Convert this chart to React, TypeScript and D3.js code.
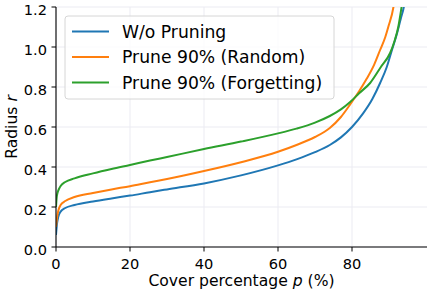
import React from "react";
import * as d3 from "d3";

const xTicks = [0, 20, 40, 60, 80];
const yTicks = [0.0, 0.2, 0.4, 0.6, 0.8, 1.0, 1.2];
const seriesNames = ["W/o Pruning", "Prune 90% (Random)", "Prune 90% (Forgetting)"];
const seriesColors = ["#1f77b4", "#ff7f0e", "#2ca02c"];

const bluePts: [number, number][] = [
  [0, 0.06], [0.3, 0.12], [0.6, 0.15], [1.25, 0.177], [2.5, 0.195], [5, 0.21], [10, 0.228],
  [15, 0.243], [20, 0.257], [25.4, 0.274], [30, 0.288], [40, 0.318], [50, 0.358], [60, 0.408],
  [65, 0.438], [70, 0.474], [74, 0.51], [77, 0.548], [80, 0.6], [83, 0.668], [85.5, 0.74],
  [87.6, 0.82], [89.4, 0.9], [90.8, 0.985], [92.2, 1.07], [93.3, 1.15], [94, 1.2], [94.4, 1.25],
];
const orangePts: [number, number][] = [
  [0, 0.1], [0.3, 0.15], [0.6, 0.18], [1.25, 0.21], [2.5, 0.23], [5, 0.25], [10, 0.27],
  [15, 0.288], [20, 0.304], [25.4, 0.324], [30, 0.34], [40, 0.38], [50, 0.424], [60, 0.476],
  [65, 0.51], [70, 0.55], [74, 0.595], [77, 0.65], [79.5, 0.713], [82, 0.781], [84, 0.842],
  [86, 0.912], [87.6, 0.985], [89, 1.05], [89.8, 1.1], [91.2, 1.2], [91.6, 1.25],
];
const greenPts: [number, number][] = [
  [0, 0.2], [0.2, 0.25], [0.4, 0.27], [0.8, 0.29], [1.25, 0.305], [2.5, 0.325], [5, 0.343],
  [10, 0.368], [15, 0.39], [20, 0.41], [25.4, 0.432], [30, 0.45], [40, 0.49], [50, 0.527],
  [60, 0.568], [65, 0.592], [70, 0.622], [74, 0.655], [77, 0.688], [79.5, 0.725], [82, 0.77],
  [84.9, 0.82], [87.8, 0.9], [90.3, 0.97], [91.5, 1.03], [92.5, 1.1], [93.4, 1.2], [93.8, 1.25],
];
const seriesData = [bluePts, orangePts, greenPts];

const W = 428;
const H = 292;
const left = 56;
const right = 427;
const top = 7;
const bottom = 247;
const font = "'DejaVu Sans', sans-serif";

export default function App() {
  const x = d3.scaleLinear().domain([0, 100.27]).range([left, right]);
  const y = d3.scaleLinear().domain([0, 1.2]).range([bottom, top]);
  const line = d3
    .line<[number, number]>()
    .x((d) => x(d[0]))
    .y((d) => y(d[1]))
    .curve(d3.curveMonotoneX);

  const legX = 65;
  const legY = 16;
  const legW = 269;
  const legH = 83;
  const rowY = (i: number) => legY + 15.5 + i * 25.5;

  return (
    <svg width={W} height={H} style={{ position: "absolute", left: 0, top: 0 }} fontFamily={font}>
      <rect width={W} height={H} fill="white" />
      <defs>
        <clipPath id="plot">
          <rect x={left} y={top} width={right - left} height={bottom - top} />
        </clipPath>
      </defs>
      {xTicks.map((t) => (
        <line key={"gx" + t} x1={x(t)} x2={x(t)} y1={top} y2={bottom} stroke="#ebebf2" strokeWidth={1} />
      ))}
      {yTicks.map((t) => (
        <line key={"gy" + t} x1={left} x2={right} y1={y(t)} y2={y(t)} stroke="#ebebf2" strokeWidth={1} />
      ))}
      <g clipPath="url(#plot)">
        {seriesData.map((d, i) => (
          <path key={i} d={line(d) || ""} fill="none" stroke={seriesColors[i]} strokeWidth={2} strokeLinejoin="round" />
        ))}
      </g>
      <line x1={left} x2={left} y1={top} y2={bottom} stroke="black" strokeWidth={1.1} />
      <line x1={left} x2={right} y1={bottom} y2={bottom} stroke="black" strokeWidth={1.1} />
      {yTicks.map((t) => (
        <g key={"ty" + t}>
          <line x1={left - 4.5} x2={left} y1={y(t)} y2={y(t)} stroke="black" strokeWidth={1} />
          <text x={left - 9} y={y(t) + 7.8} textAnchor="end" fontSize={14.6} fill="black">
            {t.toFixed(1)}
          </text>
        </g>
      ))}
      {xTicks.map((t) => (
        <g key={"tx" + t}>
          <line x1={x(t)} x2={x(t)} y1={bottom} y2={bottom + 4.5} stroke="black" strokeWidth={1} />
          <text x={x(t)} y={bottom + 22} textAnchor="middle" fontSize={14.6} fill="black">
            {t}
          </text>
        </g>
      ))}
      <text x={(left + right) / 2} y={286} textAnchor="middle" fontSize={15.6} fill="black">
        Cover percentage <tspan fontStyle="italic">p</tspan> (%)
      </text>
      <text
        transform={`translate(17, ${(top + bottom) / 2}) rotate(-90)`}
        textAnchor="middle"
        fontSize={15.6}
        fill="black"
      >
        Radius <tspan fontStyle="italic">r</tspan>
      </text>
      <rect x={legX} y={legY} width={legW} height={legH} rx={3} fill="white" fillOpacity={0.8} stroke="#d6d6d6" strokeWidth={1} />
      {seriesNames.map((n, i) => (
        <g key={n}>
          <line x1={72} x2={109} y1={rowY(i)} y2={rowY(i)} stroke={seriesColors[i]} strokeWidth={2} />
          <text x={122} y={rowY(i)} dy="0.36em" fontSize={17.2} fill="black">
            {n}
          </text>
        </g>
      ))}
    </svg>
  );
}
